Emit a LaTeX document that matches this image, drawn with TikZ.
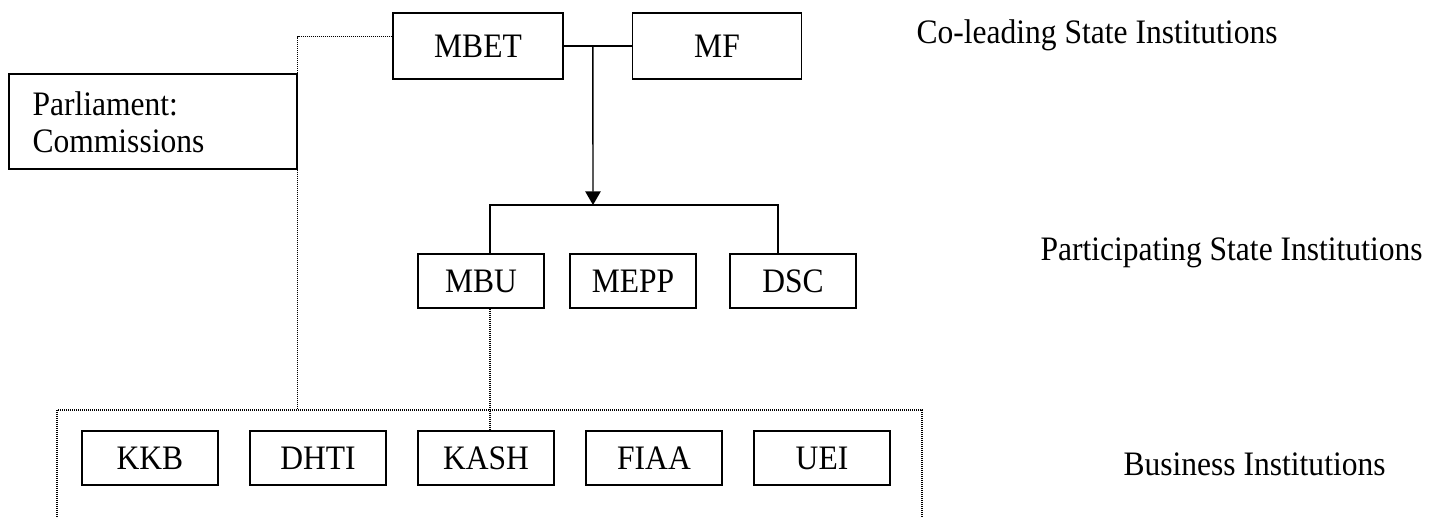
\documentclass[tikz,border=0pt]{standalone}
\usepackage{fontspec}
\setmainfont{Liberation Serif}[FakeStretch=0.92]
\usetikzlibrary{arrows.meta,calc}

\begin{document}
\begin{tikzpicture}[x=0.35pt,y=-0.35pt,
  font=\fontsize{12}{14}\selectfont,
  box/.style={draw=black,line width=0.5pt,inner sep=0pt,minimum width=#1,minimum height=18.9pt},
  box/.default=44.1pt,
  txt/.style={anchor=base west,inner sep=0pt},
  line/.style={line width=0.5pt},
  dotline/.style={line width=0.45pt,dash pattern=on 0.35pt off 0.35pt},
  arr/.style={-{Triangle[length=4.8pt,width=5.4pt]},line width=0.5pt}
]
  \useasboundingbox (0,0) rectangle (1446,516);
  \clip (0,0) rectangle (1446,516);
  \node[box=59.5pt,minimum height=23pt] (mbet) at (478,46) {MBET};
  \node[box=59.3pt,minimum height=23pt] (mf) at (717,46) {MF};
  \node[box=100.8pt,minimum height=33.25pt] (parl) at (153,121.5) {};
  \node[txt] (parl1) at (32,115) {Parliament:};
  \node[txt] (parl2) at (32,152) {Commissions};
  \node[box] (mbu) at (481,281) {MBU};
  \node[box] (mepp) at (633,281) {MEPP};
  \node[box] (dsc) at (793,281) {DSC};
  \node[draw,dotline,minimum width=302.75pt,minimum height=45.5pt] (biz) at (489.5,475) {};
  \node[box=47.6pt] (kkb) at (150,458) {KKB};
  \node[box=47.6pt] (dhti) at (318,458) {DHTI};
  \node[box=47.6pt] (kash) at (486,458) {KASH};
  \node[box=47.6pt] (fiaa) at (654,458) {FIAA};
  \node[box=47.6pt] (uei) at (822,458) {UEI};
  \node[txt] (lead) at (916,43) {Co-leading State Institutions};
  \node[txt] (part) at (1040,260) {Participating State Institutions};
  \node[txt] (bus) at (1123,475) {Business Institutions};
  \draw[line] (mbet.east) -- (mf.west);
  \coordinate (joint) at ($(mbet.east)!0.43!(mf.west)$);
  \coordinate (fork) at (593,205);
  \draw[arr] (joint) -- (fork);
  \draw[line] ($(mbu.north)+(9,0)$) |- (fork) -| ($(dsc.north)+(-15,0)$);
  \draw[dotline] ($(mbet.north west)!0.36!(mbet.south west)$) -| (parl.north east);
  \draw[dotline] (parl.south east) -- (parl.south east |- biz.north);
  \draw[dotline] ($(mbu.south)+(9,0)$) -- ($(kash.north)+(4,0)$);
\end{tikzpicture}
\end{document}
